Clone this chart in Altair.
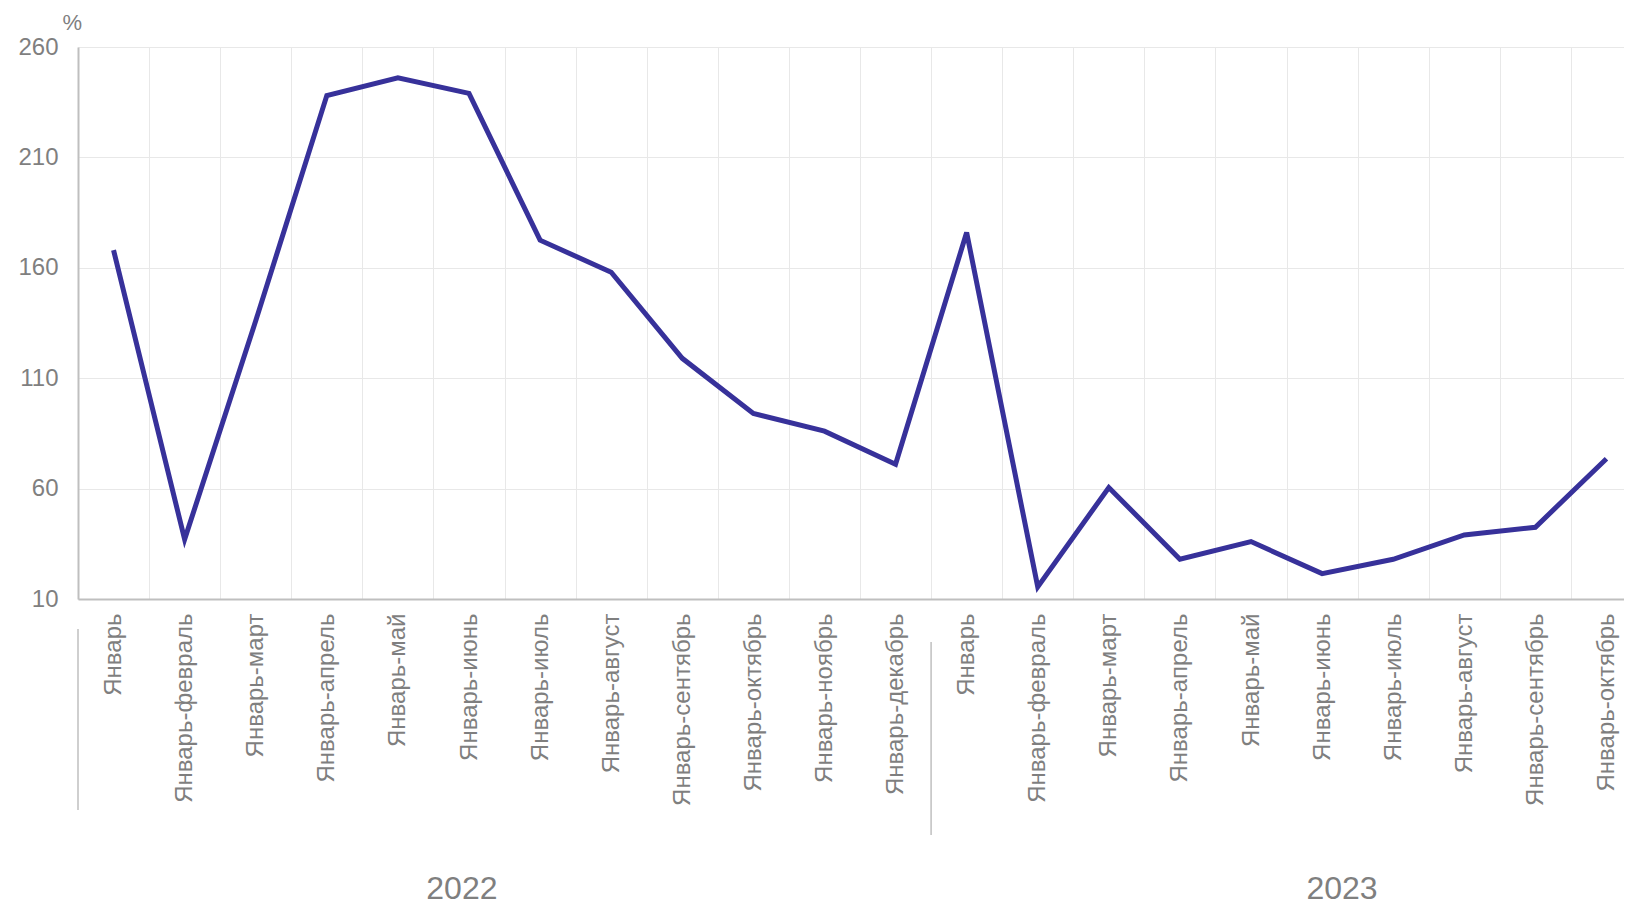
import altair as alt
import pandas as pd

months = ["Январь", "Январь-февраль", "Январь-март", "Январь-апрель", "Январь-май",
          "Январь-июнь", "Январь-июль", "Январь-август", "Январь-сентябрь",
          "Январь-октябрь", "Январь-ноябрь", "Январь-декабрь"]
years = ["2022", "2023"]
values_2022 = [168, 37, 136, 238, 246, 239, 172.5, 158, 119, 94, 86, 71]
values_2023 = [176, 15.5, 60.5, 28, 36, 21.5, 28, 39, 42.5, 73.5]
y_ticks = [10, 60, 110, 160, 210, 260]

rows = []
for m, v in zip(months, values_2022):
    rows.append({"year": "2022", "period": m, "key": "2022|" + m, "value": v})
for m, v in zip(months, values_2023):
    rows.append({"year": "2023", "period": m, "key": "2023|" + m, "value": v})
df = pd.DataFrame(rows)
keys = list(df["key"])

GRAY = "#7f7f7f"
AXIS = "#bfbfbf"
GRID = "#e8e8e8"
LINE = "#37319a"

xscale = alt.Scale(type="band", domain=keys, paddingInner=0, paddingOuter=0, range=[0, 1564])
xaxis = alt.Axis(title=None, labelAngle=-90, labelExpr="split(datum.label, '|')[1]",
                 labelFontSize=24, labelColor=GRAY, labelPadding=14, labelLimit=400,
                 labelOverlap=False, ticks=False, tickSize=0, tickBand="extent",
                 grid=True, gridColor=GRID, gridWidth=1,
                 domainColor=AXIS, domainWidth=2)

line = alt.Chart(df).mark_line(color=LINE, strokeWidth=5, strokeJoin="miter").encode(
    x=alt.X("key:N", scale=xscale, bandPosition=0.5, sort=keys, axis=xaxis),
    y=alt.Y("value:Q", scale=alt.Scale(domain=[10, 260], nice=False, zero=False),
            axis=alt.Axis(values=y_ticks, title="%", titleAngle=0, titleAlign="left",
                          titleBaseline="alphabetic", titleX=-16, titleY=-18,
                          titleFontSize=22, titleFontWeight="normal", titleColor=GRAY,
                          labelFontSize=24, labelColor=GRAY, labelPadding=20,
                          ticks=False, tickSize=0, grid=True, gridColor=GRID, gridWidth=1,
                          domainColor=AXIS, domainWidth=2)),
)

first_keys = pd.DataFrame({"year": years, "key": ["2022|" + months[0], "2023|" + months[0]]})

sep1 = alt.Chart(first_keys.iloc[[0]]).mark_rule(color=AXIS, strokeWidth=1.5).encode(
    x=alt.X("key:N", scale=xscale, bandPosition=0, sort=keys, axis=xaxis),
    y=alt.value(582), y2=alt.value(763),
)
sep2 = alt.Chart(first_keys.iloc[[1]]).mark_rule(color=AXIS, strokeWidth=1.5).encode(
    x=alt.X("key:N", scale=xscale, bandPosition=0, sort=keys, axis=xaxis),
    y=alt.value(595), y2=alt.value(788),
)

year_pos = pd.DataFrame({"year": years, "key": ["2022|" + months[5], "2023|" + months[5]]})
year_2022 = alt.Chart(year_pos.iloc[[0]]).mark_text(
    fontSize=32, color=GRAY, baseline="alphabetic", align="center").encode(
    x=alt.X("key:N", scale=xscale, bandPosition=0.4, sort=keys, axis=xaxis),
    y=alt.value(852),
    text="year:N",
)
year_2023 = alt.Chart(year_pos.iloc[[1]]).mark_text(
    fontSize=32, color=GRAY, baseline="alphabetic", align="center").encode(
    x=alt.X("key:N", scale=xscale, bandPosition=0.78, sort=keys, axis=xaxis),
    y=alt.value(852),
    text="year:N",
)

chart = alt.layer(line, sep1, sep2, year_2022, year_2023).properties(
    width=1546, height=552,
    padding={"left": 70, "top": 39, "right": 0, "bottom": 308},
    autosize=alt.AutoSizeParams(type="none"),
).configure(font="Liberation Sans").configure_view(strokeWidth=0)

chart.save("out.html", embed_options={"renderer": "svg", "actions": False})
